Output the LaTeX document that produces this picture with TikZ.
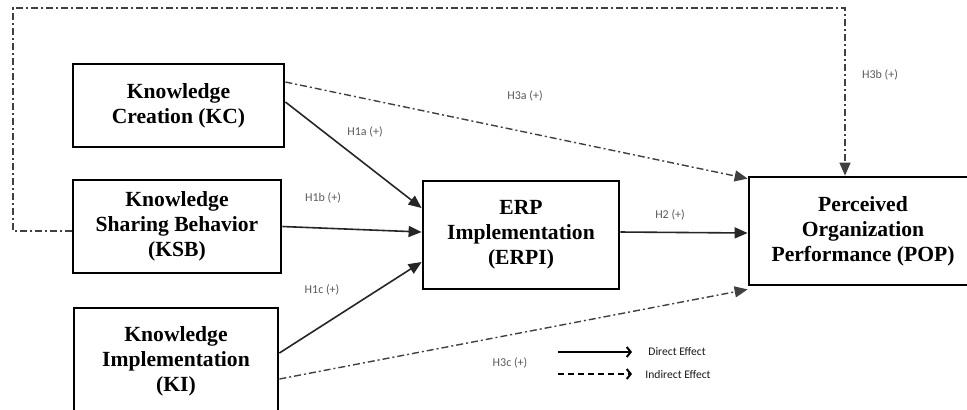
\documentclass[tikz,border=0pt]{standalone}
\usepackage{fontspec}
\setmainfont{Liberation Serif}
\newfontfamily\hypfont{Carlito}
\usetikzlibrary{positioning, arrows.meta}

\begin{document}
\begin{tikzpicture}
		[
		x=0.5pt, y=-0.5pt,
		block/.style ={rectangle, draw=black, line width=1.4pt, font=\fontsize{10.8}{12.5}\selectfont\bfseries, align=center, inner sep=0pt},
		direct/.style ={-{Triangle[length=6.5pt,width=5.5pt]}, line width=0.8pt, draw=black!85},
		indirect/.style ={-{Triangle[length=6.5pt,width=5.5pt]}, line width=0.7pt, draw=black!75, dash pattern=on 3.5pt off 1.5pt on 1pt off 1.5pt},
		hyp/.style ={font=\hypfont\fontsize{6}{6.5}\selectfont, text=black!65, inner sep=1pt},
		legend/.style ={font=\hypfont\fontsize{5.8}{6.5}\selectfont, text=black!90, inner sep=1pt}
		]
		\useasboundingbox (0,0) rectangle (967,409);
		\node[block, minimum width=105.5pt, minimum height=41.5pt] (kc) at (178.5,105.5) {Knowledge\\Creation (KC)};
		\node[block, minimum width=104pt, minimum height=46.5pt] (ksb) at (177,226.5) {Knowledge\\Sharing Behavior\\(KSB)};
		\node[block, minimum width=102pt, minimum height=53pt] (ki) at (176,361) {Knowledge\\Implementation\\(KI)};
		\node[block, minimum width=98pt, minimum height=54pt] (erpi) at (521,235) {ERP\\Implementation\\(ERPI)};
		\node[block, minimum width=114pt, minimum height=54pt] (pop) at (863,231) {Perceived\\Organization\\Performance (POP)};
		% direct paths
		\draw[direct] ([yshift=1.75pt]kc.east) -- ([yshift=13.5pt]erpi.west);
		\draw[direct] (ksb.east) -- ([yshift=1.5pt]erpi.west);
		\draw[direct] ([yshift=4pt]ki.east) -- ([yshift=-13.5pt]erpi.west);
		\draw[direct] ([yshift=1.5pt]erpi.east) -- ([yshift=-1pt]pop.west);
		% indirect paths
		\draw[indirect] ([yshift=11.75pt]kc.east) -- ([yshift=-1.5pt]pop.north west);
		\draw[indirect] ([yshift=-9pt]ki.east) -- ([yshift=-1.5pt]pop.south west);
		\coordinate (loopL) at (13,8);
		\coordinate (loopR) at (845,8);
		\draw[indirect] ([yshift=-2.25pt]ksb.west) -| (loopL) -- (loopR) -- (loopR |- pop.north);
		% hypotheses
		\node[hyp] (h1a) at (365,132) {H1a (+)};
		\node[hyp] (h1b) at (323,198) {H1b (+)};
		\node[hyp] (h1c) at (322,290) {H1c (+)};
		\node[hyp] (h2) at (670,215) {H2 (+)};
		\node[hyp] (h3a) at (525,96) {H3a (+)};
		\node[hyp] (h3b) at (880,75) {H3b (+)};
		\node[hyp] (h3c) at (510,363) {H3c (+)};
		% legend
		\node[legend, anchor=west] (dlab) at (646,352) {Direct Effect};
		\node[legend, anchor=west] (ilab) at (643,374) {Indirect Effect};
		\coordinate[left=44pt of dlab.west] (dtail);
		\coordinate[left=42.5pt of ilab.west] (itail);
		\draw[-{Straight Barb[length=2pt,width=5pt]}, line width=1pt, shorten >=7pt] (dtail) -- (dlab.west);
		\draw[-{Straight Barb[length=2pt,width=5pt]}, line width=1pt, dash pattern=on 3pt off 2pt, shorten >=5.5pt] (itail) -- (ilab.west);
	\end{tikzpicture}
\end{document}
